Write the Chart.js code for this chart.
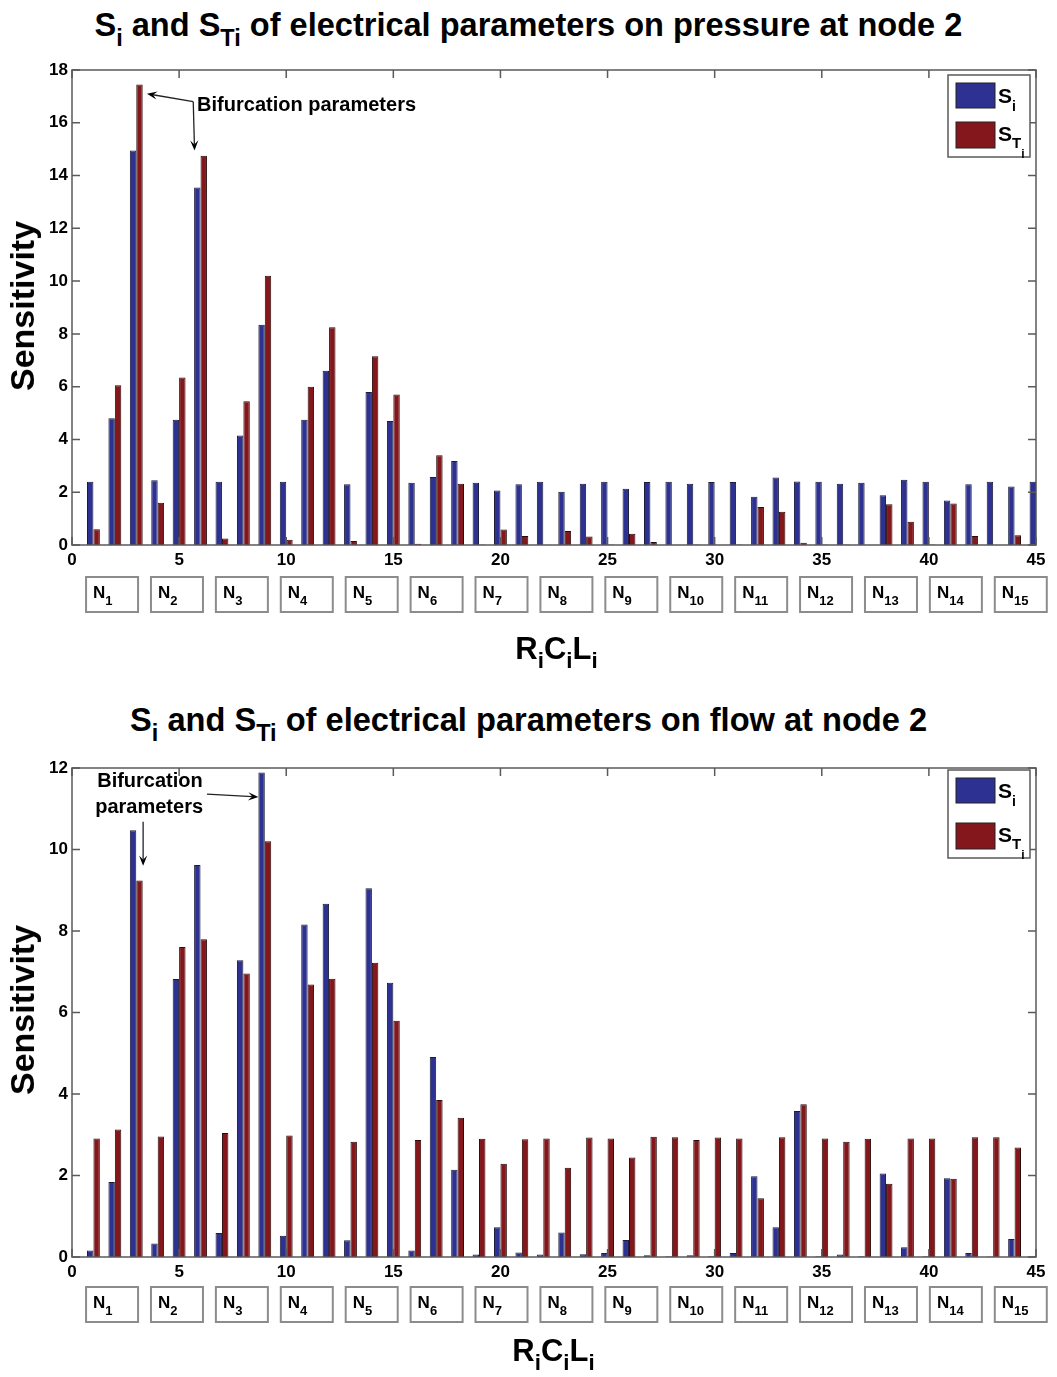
<!DOCTYPE html>
<html>
<head>
<meta charset="utf-8">
<script src="https://cdn.jsdelivr.net/npm/chart.js@4.4.1/dist/chart.umd.min.js"></script>
<style>
  body { margin: 0; background: #fff; width: 1057px; height: 1377px; position: relative; overflow: hidden;
         font-family: "Liberation Sans", Arial, sans-serif; color: #000; }
  canvas { position: absolute; left: 0; }
  .title { position: absolute; left: 0; width: 1057px; text-align: center; font-weight: bold;
           font-size: 34px; line-height: 34px; white-space: nowrap; }
  .title span { display: inline-block; transform-origin: center; }
  .ylab { position: absolute; font-weight: bold; font-size: 34px; line-height: 34px; white-space: nowrap;
          transform: translate(-50%, -50%) rotate(-90deg); }
  .xlab { position: absolute; left: 0; width: 1057px; text-align: center; font-weight: bold;
          font-size: 31px; line-height: 31px; white-space: nowrap; }
  sub { font-size: 0.72em; vertical-align: -0.42em; line-height: 0; }
</style>
</head>
<body>

<div class="title" id="title1" style="top:7px"><span>S<sub>i</sub> and S<sub>Ti</sub> of electrical parameters on pressure at node 2</span></div>
<canvas id="pressureChart" width="1057" height="690" style="top:0"></canvas>
<div class="ylab" style="left:22px; top:306px">Sensitivity</div>
<div class="xlab" style="top:633px; left:28px">R<sub>i</sub>C<sub>i</sub>L<sub>i</sub></div>

<div class="title" id="title2" style="top:702px"><span>S<sub>i</sub> and S<sub>Ti</sub> of electrical parameters on flow at node 2</span></div>
<canvas id="flowChart" width="1057" height="687" style="top:690px"></canvas>
<div class="ylab" style="left:22px; top:1010px">Sensitivity</div>
<div class="xlab" style="top:1335px; left:25px">R<sub>i</sub>C<sub>i</sub>L<sub>i</sub></div>

<script>
/* =========================
   Data
========================= */

const paramIndex = [1, 2, 3, 4, 5, 6, 7, 8, 9, 10, 11, 12, 13, 14, 15, 16, 17, 18, 19, 20, 21, 22, 23,
  24, 25, 26, 27, 28, 29, 30, 31, 32, 33, 34, 35, 36, 37, 38, 39, 40, 41, 42, 43, 44, 45];

const nodeLabels = ["1", "2", "3", "4", "5", "6", "7", "8", "9", "10", "11", "12", "13", "14", "15"];

const xTicks = [0, 5, 10, 15, 20, 25, 30, 35, 40, 45];
const pressureYTicks = [0, 2, 4, 6, 8, 10, 12, 14, 16, 18];
const flowYTicks = [0, 2, 4, 6, 8, 10, 12];

// pressure at node 2
const pressureSi = [2.4, 4.8, 14.95, 2.45, 4.75, 13.55, 2.4, 4.15, 8.35, 2.4, 4.75, 6.6, 2.3, 5.8, 4.7,
  2.36, 2.58, 3.18, 2.36, 2.07, 2.3, 2.4, 2.02, 2.32, 2.4, 2.13, 2.39, 2.4, 2.32, 2.39,
  2.39, 1.83, 2.56, 2.41, 2.4, 2.32, 2.36, 1.89, 2.47, 2.4, 1.69, 2.3, 2.4, 2.22, 2.4];
const pressureSTi = [0.6, 6.05, 17.45, 1.6, 6.35, 14.75, 0.25, 5.45, 10.2, 0.2, 6.0, 8.25, 0.15, 7.15, 5.7,
  0.05, 3.4, 2.32, 0.02, 0.59, 0.34, 0.01, 0.53, 0.32, 0.02, 0.43, 0.11, 0.01, 0.02, 0.01,
  0.02, 1.44, 1.26, 0.09, 0.02, 0.02, 0.01, 1.54, 0.88, 0.02, 1.57, 0.34, 0.01, 0.37, 0.02];

// flow at node 2
const flowSi = [0.16, 1.84, 10.47, 0.33, 6.82, 9.62, 0.59, 7.28, 11.89, 0.52, 8.16, 8.67, 0.41, 9.05, 6.73,
  0.16, 4.91, 2.14, 0.06, 0.73, 0.11, 0.06, 0.6, 0.07, 0.1, 0.42, 0.04, 0.02, 0.04, 0.02,
  0.1, 1.98, 0.73, 3.58, 0.02, 0.06, 0.02, 2.05, 0.24, 0.02, 1.93, 0.1, 0.01, 0.44, 0.01];
const flowSTi = [2.91, 3.13, 9.24, 2.96, 7.61, 7.8, 3.04, 6.96, 10.2, 2.98, 6.69, 6.83, 2.83, 7.22, 5.8,
  2.87, 3.85, 3.42, 2.9, 2.29, 2.89, 2.91, 2.19, 2.93, 2.91, 2.44, 2.95, 2.94, 2.87, 2.93,
  2.91, 1.44, 2.94, 3.75, 2.91, 2.83, 2.9, 1.8, 2.91, 2.91, 1.92, 2.94, 2.94, 2.69, 2.9];

/* =========================
   Styles
========================= */

const FONT = '"Liberation Sans", Arial, sans-serif';
const BLUE = "#2d3192";
const RED = "#84171b";
const FRAME = "#5a5a5a";

/* =========================
   Drawing helpers
========================= */

// draws a run of text pieces, each with its own size and vertical shift
function drawRuns(ctx, runs, x, y) {
  let cx = x;
  runs.forEach(r => {
    ctx.font = "bold " + r.size + "px " + FONT;
    ctx.fillText(r.t, cx, y + (r.dy || 0));
    cx += ctx.measureText(r.t).width + (r.gap || 0);
  });
}

function arrow(ctx, x1, y1, x2, y2) {
  const ang = Math.atan2(y2 - y1, x2 - x1);
  const len = 11, half = 0.38;
  ctx.beginPath();
  ctx.moveTo(x1, y1);
  ctx.lineTo(x2 - Math.cos(ang) * 6, y2 - Math.sin(ang) * 6);
  ctx.stroke();
  ctx.beginPath();
  ctx.moveTo(x2, y2);
  ctx.lineTo(x2 - len * Math.cos(ang - half), y2 - len * Math.sin(ang - half));
  ctx.lineTo(x2 - len * 0.55 * Math.cos(ang), y2 - len * 0.55 * Math.sin(ang));
  ctx.lineTo(x2 - len * Math.cos(ang + half), y2 - len * Math.sin(ang + half));
  ctx.closePath();
  ctx.fill();
}

/* =========================
   Frame, legend, node boxes, notes
========================= */

function decorPlugin(cfg) {
  return {
    id: "decor",
    afterDatasetsDraw(chart) {
      const { ctx, chartArea: a, scales: { x, y } } = chart;
      ctx.save();

      // axes box + inward ticks
      ctx.strokeStyle = FRAME;
      ctx.lineWidth = 1.5;
      ctx.strokeRect(a.left, a.top, a.right - a.left, a.bottom - a.top);
      ctx.beginPath();
      xTicks.forEach(v => {
        const px = x.getPixelForValue(v);
        ctx.moveTo(px, a.bottom); ctx.lineTo(px, a.bottom - 8);
        ctx.moveTo(px, a.top); ctx.lineTo(px, a.top + 8);
      });
      cfg.yTicks.forEach(v => {
        const py = y.getPixelForValue(v);
        ctx.moveTo(a.left, py); ctx.lineTo(a.left + 8, py);
        ctx.moveTo(a.right, py); ctx.lineTo(a.right - 8, py);
      });
      ctx.stroke();

      // legend
      const lx = a.right - 88, ly = a.top + cfg.legendTop, lh = cfg.legendH;
      ctx.fillStyle = "#fff";
      ctx.fillRect(lx, ly, 82, lh);
      ctx.strokeStyle = FRAME;
      ctx.lineWidth = 1.5;
      ctx.strokeRect(lx, ly, 82, lh);
      ctx.fillStyle = BLUE;
      ctx.fillRect(lx + 8, ly + 8, 39, 25);
      ctx.fillStyle = RED;
      ctx.fillRect(lx + 8, ly + lh - 35, 39, 26);
      ctx.strokeStyle = "#222";
      ctx.lineWidth = 1;
      ctx.strokeRect(lx + 8, ly + 8, 39, 25);
      ctx.strokeRect(lx + 8, ly + lh - 35, 39, 26);
      ctx.fillStyle = "#000";
      ctx.textAlign = "left";
      ctx.textBaseline = "alphabetic";
      drawRuns(ctx, [{ t: "S", size: 21 }, { t: "i", size: 14, dy: 8 }], lx + 50, ly + 28);
      drawRuns(ctx, [{ t: "S", size: 21 }, { t: "T", size: 15, dy: 7 }, { t: "i", size: 12, dy: 17 }],
        lx + 50, ly + lh - 16);

      // node boxes under the x axis
      nodeLabels.forEach((lab, k) => {
        const cx = x.getPixelForValue(1.87 + 3.03 * k);
        const bx = cx - 26, by = a.bottom + cfg.nodeTop;
        ctx.fillStyle = "#fff";
        ctx.fillRect(bx, by, 52, 35);
        ctx.strokeStyle = "#8c8c8c";
        ctx.lineWidth = 2;
        ctx.strokeRect(bx, by, 52, 35);
        ctx.fillStyle = "#000";
        drawRuns(ctx, [{ t: "N", size: 17 }, { t: lab, size: 13, dy: 7 }], bx + 7, by + 21);
      });

      // annotation
      ctx.fillStyle = "#000";
      ctx.strokeStyle = "#222";
      ctx.lineWidth = 1.3;
      cfg.note(ctx, x, y);
      ctx.restore();
    }
  };
}

/* =========================
   Chart builder
========================= */

function buildChart(canvasId, si, sti, opts) {
  const toPts = arr => paramIndex.map((p, i) => ({ x: p, y: arr[i] }));
  return new Chart(document.getElementById(canvasId), {
    type: "bar",
    data: {
      datasets: [
        { label: "Si", data: toPts(si), backgroundColor: BLUE, borderColor: "#1c1c3a", borderWidth: 1,
          inflateAmount: 0, categoryPercentage: 0.6, barPercentage: 1, clip: 0 },
        { label: "STi", data: toPts(sti), backgroundColor: RED, borderColor: "#2a0c0c", borderWidth: 1,
          inflateAmount: 0, categoryPercentage: 0.6, barPercentage: 1, clip: 0 }
      ]
    },
    options: {
      responsive: false,
      animation: false,
      layout: { padding: opts.padding },
      plugins: { legend: { display: false }, tooltip: { enabled: false } },
      scales: {
        x: {
          type: "linear", min: 0, max: 45, offset: false,
          grid: { display: false, drawTicks: false },
          border: { display: false },
          afterBuildTicks: s => { s.ticks = xTicks.map(v => ({ value: v })); },
          afterFit: s => { s.height = 30; },
          ticks: { color: "#000", padding: 5, maxRotation: 0, autoSkip: false,
                   font: { family: FONT, size: 17, weight: "bold" } }
        },
        y: {
          min: 0, max: opts.yMax,
          grid: { display: false, drawTicks: false },
          border: { display: false },
          afterBuildTicks: s => { s.ticks = opts.yTicks.map(v => ({ value: v })); },
          afterFit: s => { s.width = 72; },
          ticks: { color: "#000", padding: 4,
                   font: { family: FONT, size: 17, weight: "bold" } }
        }
      }
    },
    plugins: [decorPlugin(opts)]
  });
}

buildChart("pressureChart", pressureSi, pressureSTi, {
  yMax: 18, yTicks: pressureYTicks,
  padding: { top: 70, right: 21, bottom: 115, left: 0 },
  legendTop: 5, legendH: 82, nodeTop: 32,
  note(ctx, x, y) {
    ctx.font = "bold 20px " + FONT;
    ctx.textAlign = "left";
    ctx.textBaseline = "middle";
    ctx.fillText("Bifurcation parameters", x.getPixelForValue(5.84), y.getPixelForValue(16.67));
    const sx = x.getPixelForValue(5.66), sy = y.getPixelForValue(16.8);
    arrow(ctx, sx, sy, x.getPixelForValue(3.5), y.getPixelForValue(17.1));
    arrow(ctx, sx, sy, x.getPixelForValue(5.72), y.getPixelForValue(14.95));
  }
});

buildChart("flowChart", flowSi, flowSTi, {
  yMax: 12, yTicks: flowYTicks,
  padding: { top: 78, right: 21, bottom: 90, left: 0 },
  legendTop: 2, legendH: 88, nodeTop: 30,
  note(ctx, x, y) {
    ctx.font = "bold 20px " + FONT;
    ctx.textAlign = "center";
    ctx.textBaseline = "middle";
    ctx.fillText("Bifurcation", x.getPixelForValue(3.64), y.getPixelForValue(11.66));
    ctx.fillText("parameters", x.getPixelForValue(3.6), y.getPixelForValue(11.02));
    arrow(ctx, x.getPixelForValue(3.32), y.getPixelForValue(10.68), x.getPixelForValue(3.32), y.getPixelForValue(9.6));
    arrow(ctx, x.getPixelForValue(6.3), y.getPixelForValue(11.36), x.getPixelForValue(8.7), y.getPixelForValue(11.29));
  }
});

/* =========================
   Fit the titles to the reference width
========================= */

[["title1", 868], ["title2", 797]].forEach(([id, target]) => {
  const span = document.querySelector("#" + id + " span");
  const w = span.getBoundingClientRect().width;
  span.style.transform = "scaleX(" + (target / w).toFixed(3) + ")";
});
</script>
</body>
</html>
